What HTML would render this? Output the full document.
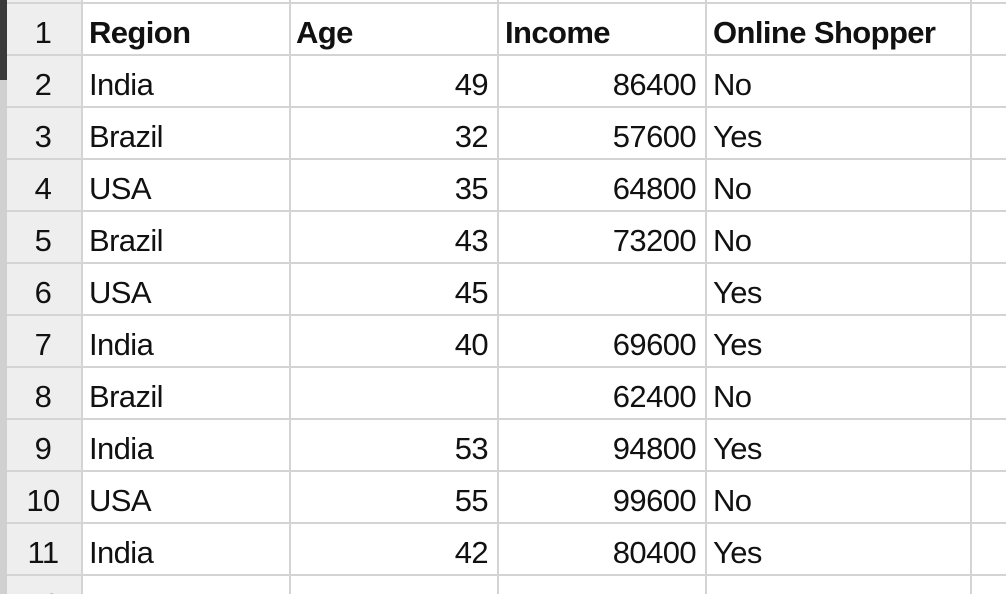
<!DOCTYPE html>
<html style="overflow:hidden;width:1006px;height:594px"><head><meta charset="utf-8"><style>
html,body{margin:0;width:1006px;height:594px;overflow:hidden}
body{background:#fff;font-family:"Liberation Sans",sans-serif;position:relative}
.strip{position:absolute;left:0;top:0;width:7px;height:594px;background:#d0d0d0}
.strip2{position:absolute;left:0;top:0;width:7px;height:80px;background:#3a3a3a}
.hdr{position:absolute;left:7px;top:0;width:74px;height:594px;background:#eeeeee}
.h{position:absolute;background:#d4d4d4;height:2px;left:7px;width:999px}
.v{position:absolute;background:#d4d4d4;width:2px;top:0;height:594px}
.c{position:absolute;height:52px;line-height:54px;font-size:31px;color:#111;white-space:nowrap;letter-spacing:-0.6px}
.b{font-weight:bold}
#g{position:absolute;left:0;top:0;width:1006px;height:594px;overflow:hidden}
#r12{position:absolute;left:7px;top:578px;width:72px;height:16px;overflow:hidden}
</style></head><body>
<div class="strip"></div>
<div class="strip2"></div>
<div class="hdr"></div>
<div id="g"></div>
<div id="r12"><div class="c" style="left:0;top:0;width:72px;height:16px;line-height:54px;text-align:center;font-size:31px">12</div></div>
<script>
const rows=[["Region","Age","Income","Online Shopper"],["India","49","86400","No"],["Brazil","32","57600","Yes"],["USA","35","64800","No"],["Brazil","43","73200","No"],["USA","45","","Yes"],["India","40","69600","Yes"],["Brazil","","62400","No"],["India","53","94800","Yes"],["USA","55","99600","No"],["India","42","80400","Yes"]];
const g=document.getElementById('g');
const cols=[81,289,497,705,970];
for(let i=0;i<12;i++){const d=document.createElement('div');d.className='h';d.style.top=(2+i*52)+'px';


g.appendChild(d);}
cols.forEach(x=>{const d=document.createElement('div');d.className='v';d.style.left=x+'px';


g.appendChild(d);});
function cell(txt,l,w,top,align,bold,name){const d=document.createElement('div');d.className='c'+(bold?' b':'');
d.style.left=l+'px';d.style.width=w+'px';d.style.top=top+'px';d.style.textAlign=align;d.textContent=txt;


g.appendChild(d);}
for(let r=0;r<11;r++){const top=6+r*52;
cell(String(r+1),7,72,top,'center',false,'row-number');}
rows.forEach((row,r)=>{const top=6+r*52;const hdr=r===0;
cell(row[0],89,190,top,'left',hdr,'region-cell');
cell(row[1],hdr?296:291,hdr?190:197,top,hdr?'left':'right',hdr,'age-cell');
cell(row[2],hdr?505:499,hdr?190:197,top,hdr?'left':'right',hdr,'income-cell');
cell(row[3],713,260,top,'left',hdr,'online-shopper-cell');});
</script>
</body></html>
